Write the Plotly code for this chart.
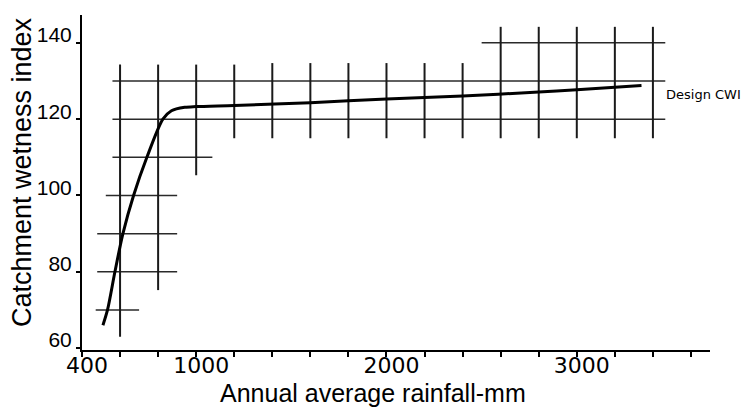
import plotly.graph_objects as go

# Design curve: annual average rainfall (mm) vs catchment wetness index
rain_mm = [510, 534, 573, 615, 671, 741, 825, 870, 940, 1000, 1200, 1600, 2000, 2400, 2800, 3000, 3340]
cwi = [66, 70, 80, 90, 100, 110, 120, 122.2, 123.1, 123.3, 123.6, 124.3, 125.3, 126.1, 127.1, 127.7, 128.8]

# Horizontal grid segments (CWI level, from rainfall, to rainfall)
hgrid_cwi = [140, 130, 120, 110, 100, 90, 80, 70]
hgrid_from = [2500, 560, 560, 560, 525, 480, 480, 472]
hgrid_to = [3465, 3465, 3465, 1085, 900, 900, 900, 700]

# Vertical grid segments (rainfall, from CWI, to CWI)
vgrid_rain = [600, 800, 1000, 1200, 1400, 1600, 1800, 2000, 2200, 2400, 2600, 2800, 3000, 3200, 3400]
vgrid_from = [63, 75.2, 105.3, 115, 115, 115, 115, 115, 115, 115, 115, 115, 115, 115, 115]
vgrid_to = [134.3, 134.3, 134.3, 134.3, 134.7, 134.7, 134.7, 134.7, 134.7, 134.7, 144.2, 144.2, 144.2, 144.2, 144.2]

# Axis ticks
x_tick_vals = [400, 600, 800, 1000, 1200, 1400, 1600, 1800, 2000, 2200, 2400, 2600, 2800, 3000, 3200, 3400, 3600]
x_tick_text = ["400", "", "", "1000", "", "", "", "", "2000", "", "", "", "", "3000", "", "", ""]
y_tick_vals = [60, 80, 100, 120, 140]

fig = go.Figure()

hx, hy = [], []
for yv, x0, x1 in zip(hgrid_cwi, hgrid_from, hgrid_to):
    hx += [x0, x1, None]
    hy += [yv, yv, None]
fig.add_trace(go.Scatter(x=hx, y=hy, mode="lines", line=dict(color="#2a2a2a", width=1.5),
                         hoverinfo="skip", showlegend=False))

vx, vy = [], []
for xv, y0, y1 in zip(vgrid_rain, vgrid_from, vgrid_to):
    vx += [xv, xv, None]
    vy += [y0, y1, None]
fig.add_trace(go.Scatter(x=vx, y=vy, mode="lines", line=dict(color="#1a1a1a", width=2),
                         hoverinfo="skip", showlegend=False))

fig.add_trace(go.Scatter(x=rain_mm, y=cwi, mode="lines",
                         line=dict(color="black", width=3, shape="spline", smoothing=0.8),
                         showlegend=False))

fig.update_layout(
    width=742, height=410,
    margin=dict(l=82, r=32, t=15, b=60),
    paper_bgcolor="white", plot_bgcolor="white",
    xaxis=dict(range=[400, 3700], showline=True, linecolor="black", linewidth=2,
               ticks="outside", ticklen=5, tickwidth=1.5, tickcolor="black",
               tickvals=x_tick_vals, ticktext=x_tick_text,
               tickfont=dict(family="DejaVu Sans", size=22, color="black"),
               showgrid=False, zeroline=False, ticklabelshift=5, ticklabelstandoff=-10),
    yaxis=dict(range=[59.5, 147.3], showline=True, linecolor="black", linewidth=2,
               ticks="outside", ticklen=4, tickwidth=1.5, tickcolor="black",
               tickvals=y_tick_vals,
               tickfont=dict(family="Liberation Sans", size=21, color="black"),
               showgrid=False, zeroline=False, ticklabelshift=-8),
    annotations=[
        dict(text="Annual average rainfall-mm", xref="paper", yref="paper",
             x=0.464, y=0, xanchor="center", yanchor="middle", yshift=-43,
             showarrow=False, font=dict(family="Liberation Sans", size=25, color="black")),
        dict(text="Catchment wetness index", xref="paper", yref="paper",
             x=0, y=0.531, xanchor="center", yanchor="middle", xshift=-60, textangle=-90,
             showarrow=False, font=dict(family="Liberation Sans", size=27, color="black")),
        dict(text="Design CWI", xref="x", yref="y", x=3458, y=126.4,
             xanchor="left", yanchor="middle", showarrow=False,
             font=dict(family="DejaVu Sans", size=13, color="black")),
    ],
)

fig.write_html("out.html")
